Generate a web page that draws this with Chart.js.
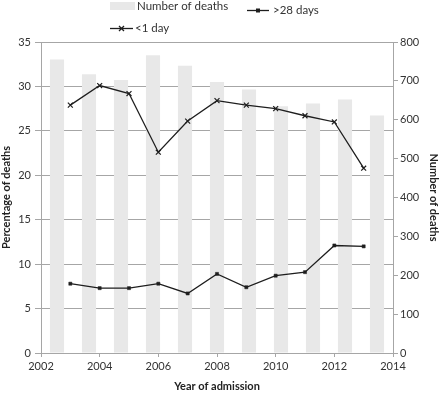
<!DOCTYPE html>
<html>
<head>
<meta charset="utf-8">
<script src="https://cdn.jsdelivr.net/npm/chart.js@4.4.1/dist/chart.umd.min.js"></script>
<style>
html, body { margin: 0; padding: 0; background: #fff; }
#wrap { width: 440px; height: 393px; position: relative; }
</style>
</head>
<body>
<div id="wrap"><canvas id="myChart"></canvas></div>
<script>
// data
const years = [2003, 2004, 2005, 2006, 2007, 2008, 2009, 2010, 2011, 2012, 2013];
const deaths = [755, 717, 702, 766, 739, 697, 678, 635, 642, 652, 611];
const lessThanOneDay = [27.9, 30.1, 29.2, 22.6, 26.1, 28.4, 27.9, 27.5, 26.7, 26.0, 20.8];
const overTwentyEightDays = [7.8, 7.3, 7.3, 7.8, 6.7, 8.9, 7.4, 8.7, 9.1, 12.1, 12.0];
const yearMin = 2002, yearMax = 2014, yearStep = 2;

const gridGray = '#a6a6a6';
const lineBlack = '#1e1e1e';
const barGray = '#e8e8e8';
Chart.defaults.font.family = 'Lato, "Open Sans", sans-serif';
Chart.defaults.font.size = 11;
Chart.defaults.color = '#333';

// legend drawn by hand, excel style (two rows)
const legendPlugin = {
    id: 'excelLegend',
    afterDraw(chart) {
        const c = chart.ctx;
        c.save();
        c.font = '11.5px Lato, "Open Sans", sans-serif';
        c.textBaseline = 'middle';
        c.textAlign = 'left';
        // bars
        c.fillStyle = barGray;
        c.fillRect(110, 2, 25, 8);
        c.fillStyle = '#333';
        c.fillText('Number of deaths', 137, 6.5);
        // >28 days
        c.strokeStyle = lineBlack;
        c.lineWidth = 1.3;
        c.beginPath(); c.moveTo(247, 10.5); c.lineTo(269, 10.5); c.stroke();
        c.fillStyle = lineBlack;
        c.fillRect(256, 8.5, 4, 4);
        c.fillStyle = '#333';
        c.fillText('>28 days', 273, 10.5);
        // <1 day
        c.beginPath(); c.moveTo(110, 28.5); c.lineTo(133, 28.5); c.stroke();
        c.beginPath();
        c.moveTo(119, 26); c.lineTo(124, 31);
        c.moveTo(124, 26); c.lineTo(119, 31);
        c.stroke();
        c.fillText('<1 day', 135, 28.5);
        c.restore();
    }
};

const ctx = document.getElementById('myChart');

new Chart(ctx, {
    type: 'line',
    data: {
        datasets: [
            {
                label: '>28 days',
                data: years.map((yr, i) => ({ x: yr, y: overTwentyEightDays[i] })),
                xAxisID: 'x',
                yAxisID: 'y',
                borderColor: lineBlack,
                borderWidth: 1.3,
                pointStyle: 'rect',
                pointRadius: 2.2,
                pointBackgroundColor: lineBlack,
                pointBorderColor: lineBlack,
                pointBorderWidth: 0.5,
                tension: 0,
                order: 1
            },
            {
                label: '<1 day',
                data: years.map((yr, i) => ({ x: yr, y: lessThanOneDay[i] })),
                xAxisID: 'x',
                yAxisID: 'y',
                borderColor: lineBlack,
                borderWidth: 1.3,
                pointStyle: 'crossRot',
                pointRadius: 3.5,
                pointBorderColor: lineBlack,
                pointBorderWidth: 1.2,
                tension: 0,
                order: 1
            },
            {
                type: 'bar',
                label: 'Number of deaths',
                data: deaths,
                xAxisID: 'xb',
                yAxisID: 'y2',
                backgroundColor: barGray,
                grouped: false, // otherwise the bars get split with the lines
                barPercentage: 0.44,
                categoryPercentage: 1,
                order: 3
            }
        ]
    },
    options: {
        responsive: true,
        maintainAspectRatio: false,
        animation: false,
        layout: { padding: { top: 42, left: 0, right: 0, bottom: 0 } },
        plugins: {
            legend: { display: false },
            tooltip: { enabled: false }
        },
        scales: {
            x: {
                type: 'linear',
                position: 'bottom',
                min: yearMin,
                max: yearMax,
                ticks: { stepSize: yearStep, callback: v => String(v), padding: 3, color: '#333' },
                grid: { drawOnChartArea: false, tickLength: 4, color: gridGray },
                border: { color: gridGray },
                title: { display: true, text: 'Year of admission', font: { weight: 'bold', size: 11 }, color: '#222', padding: { top: 2, bottom: 0 } },
                afterFit: s => { s.height = 40; }
            },
            xb: {
                type: 'category',
                labels: years,
                display: false,
                offset: true
            },
            y: {
                position: 'left',
                min: 0,
                max: 35,
                ticks: { stepSize: 5, padding: 4, color: '#333' },
                grid: { color: gridGray, tickLength: 6 },
                border: { color: gridGray },
                z: 1, // gridlines show over the bars in the original
                title: { display: true, text: 'Percentage of deaths', font: { weight: 'bold', size: 11 }, color: '#222', padding: { top: 0, bottom: 0 } },
                afterFit: s => { s.width = 41; }
            },
            y2: {
                position: 'right',
                min: 0,
                max: 800,
                ticks: { stepSize: 100, padding: 2, color: '#333' },
                grid: { drawOnChartArea: false, tickLength: 5, color: gridGray },
                border: { color: gridGray },
                title: { display: true, text: 'Number of deaths', font: { weight: 'bold', size: 11 }, color: '#222', padding: { top: 0, bottom: 0 } },
                afterFit: s => { s.width = 47; }
            }
        }
    },
    plugins: [legendPlugin]
});
</script>
</body>
</html>
